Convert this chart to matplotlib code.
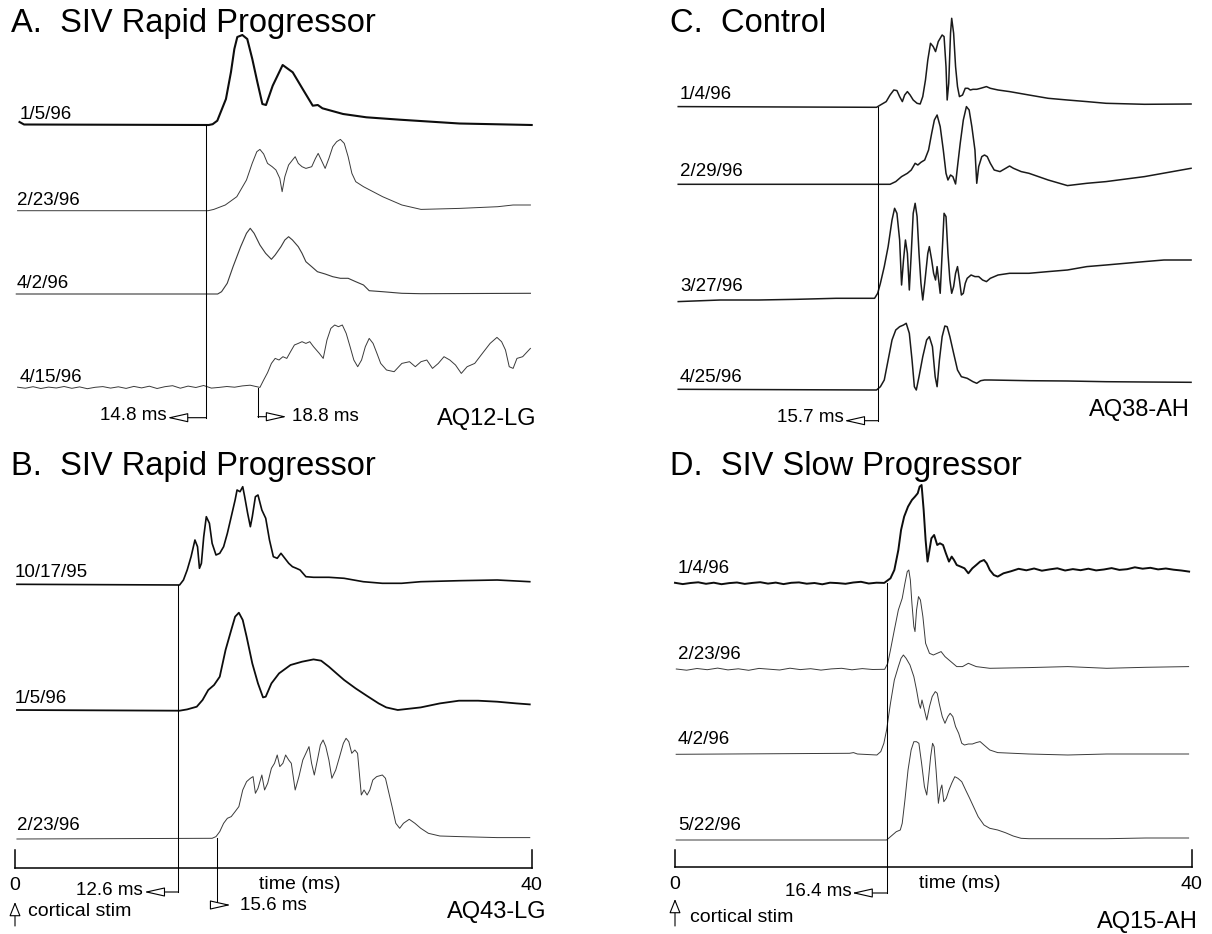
import numpy as np
import matplotlib
matplotlib.use("Agg")
import matplotlib.pyplot as plt

plt.rcParams['font.family'] = ['Liberation Sans', 'DejaVu Sans']

# ---- data: time (ms) and amplitude (arbitrary units) of each MEP trace ----
# A. SIV rapid progressor (AQ12-LG)
a1_t = [0.35, 0.7, 15.0, 15.3, 15.66, 16.33, 16.72, 16.98, 17.21, 17.6, 17.98, 18.37, 18.76, 19.15, 19.43,
        19.95, 20.72, 21.5, 22.27, 23.05, 23.44, 23.8, 25.4, 27.2, 29.8, 34.4, 40.0]
a1_v = [3, 0.5, 0, 0.8, 4.3, 26, 53, 76, 88, 90, 86, 66, 43, 21, 20, 39.3, 60, 52.7, 36, 19.3, 20, 16.7, 11,
        7.7, 5.3, 1.5, 0]
a2_t = [0.2, 14.95, 15.39, 16.28, 17.17, 17.92, 18.36, 18.72, 18.96, 19.25, 19.55, 19.91, 20.20, 20.50, 20.68,
        20.89, 21.18, 21.48, 21.69, 21.93, 22.22, 22.52, 22.97, 23.26, 23.47, 23.71, 24.01, 24.30, 24.60, 24.90,
        25.19, 25.49, 25.79, 26.08, 26.38, 26.98, 28.46, 29.95, 31.43, 34.40, 37.37, 38.56, 39.15, 39.90]
a2_v = [0, 0, 1.3, 5.7, 14, 30.7, 47.3, 59, 61.3, 56.7, 47.3, 44, 40.7, 32.3, 19, 34, 45.7, 50.7, 54, 47.3, 44,
        42.3, 44, 52.3, 57.3, 50.7, 42.3, 52.3, 64, 69, 71.3, 67.3, 54, 37.3, 29, 24, 14, 5.7, 1.3, 2.3, 4, 5.7,
        5.7, 5.7]
a3_t = [0.1, 15.69, 15.99, 16.43, 16.88, 17.47, 17.92, 18.21, 18.51, 18.96, 19.40, 19.85, 20.14, 20.59, 20.89,
        21.18, 21.48, 21.93, 22.22, 22.52, 22.97, 23.41, 24.01, 24.60, 25.19, 25.79, 26.38, 26.98, 27.42, 28.46,
        29.95, 31.43, 39.90]
a3_v = [0, 0, 2.3, 10.7, 27.3, 47.3, 60.7, 65.7, 60.7, 49, 40.7, 34.7, 39, 47.3, 54, 57.3, 54, 47.3, 40.7, 32.3,
        27.3, 22.3, 20, 17.3, 15.7, 15.7, 12.3, 9, 3.3, 2.3, 0.7, 0.3, 0.7]
a4_t = [0.2, 0.8, 1.4, 2.0, 2.6, 3.2, 3.8, 4.4, 5.0, 5.6, 6.2, 6.8, 7.4, 8.0, 8.6, 9.2, 9.8, 10.4, 11.0, 11.6,
        12.2, 12.8, 13.4, 14.0, 14.6, 15.2, 15.8, 16.4, 17.0, 17.6, 18.2, 18.96, 19.25, 19.55, 19.85, 20.14,
        20.44, 20.74, 21.04, 21.33, 21.63, 21.93, 22.22, 22.52, 22.82, 23.11, 23.56, 23.86, 24.15, 24.45, 24.75,
        25.04, 25.34, 25.64, 25.94, 26.23, 26.53, 26.83, 27.12, 27.42, 27.72, 28.02, 28.31, 28.76, 29.35, 29.95,
        30.54, 30.99, 31.43, 31.88, 32.32, 32.77, 33.21, 33.66, 34.10, 34.55, 35.00, 35.59, 36.18, 36.78, 37.31,
        37.67, 37.97, 38.26, 38.56, 38.86, 39.30, 39.90]
a4_v = [0.5, -0.5, 1.0, -0.8, 0.6, -0.3, 1.2, -0.6, 0.8, -1.0, 0.4, 1.1, -0.4, 0.9, -0.7, 1.3, -0.2, 1.5, -0.8,
        1.0, 2.0, -0.5, 1.6, 0.2, 2.2, -0.4, 0.3, 1.2, 0.5, 1.8, 2.5, 0.3, 7.7, 15, 24.3, 29.3, 27.7, 31, 29.3, 36,
        42.7, 44.3, 46, 44.3, 46, 41, 34.3, 29.3, 47.7, 59.3, 62.7, 61, 62.7, 54.3, 41, 27.7, 21, 27.7, 41, 49.3,
        44.3, 34.3, 24.3, 17.7, 16, 24.3, 26, 21, 26, 27.7, 19.3, 24.3, 31, 27.7, 22.7, 14.3, 21, 24.3, 34.3,
        44.3, 50.3, 46, 37.7, 21, 19.3, 29.3, 31, 39.3]

# B. SIV rapid progressor (AQ43-LG)
b1_t = [0.15, 12.74, 13.04, 13.33, 13.63, 13.93, 14.13, 14.28, 14.43, 14.61, 14.81, 15.05, 15.26, 15.56, 15.85,
        16.15, 16.44, 16.74, 17.04, 17.19, 17.42, 17.63, 17.78, 18.01, 18.22, 18.37, 18.61, 18.81, 19.11, 19.41,
        19.70, 20.00, 20.30, 20.59, 20.89, 21.19, 21.48, 21.78, 22.07, 22.52, 23.11, 24.30, 25.48, 26.96, 28.44,
        29.93, 31.41, 34.37, 37.33, 39.85]
b1_v = [0.7, 0, 5, 15, 28.3, 45, 38.3, 16.7, 21.7, 48.3, 68.3, 61.7, 41.7, 30, 31.7, 38.3, 51.7, 68.3, 85, 95,
        93.3, 98.3, 88.3, 71.7, 58.3, 68.3, 88.3, 90, 75, 66.7, 45, 28.3, 26.7, 31.7, 26.7, 21.7, 18.3, 16.7, 15,
        8.3, 7.7, 7.7, 6.7, 3.3, 1.7, 1.7, 3.3, 4.3, 5, 3.3]
b2_t = [0.15, 12.74, 13.33, 14.07, 14.52, 14.96, 15.41, 15.85, 16.30, 16.74, 17.04, 17.33, 17.63, 17.93, 18.37,
        18.81, 19.20, 19.41, 19.85, 20.44, 21.33, 22.22, 23.11, 23.70, 24.30, 24.89, 25.48, 26.37, 27.26, 28.15,
        28.74, 29.63, 30.52, 31.41, 32.89, 34.37, 35.85, 37.33, 38.81, 39.85]
b2_v = [0.7, 0, 1.3, 4, 10.7, 20.7, 25.7, 34, 60.7, 80.7, 94, 98, 90.7, 74, 47.3, 27.3, 13.3, 14, 27.3, 37.3,
        45.7, 49, 51.3, 50, 44, 37.3, 30.7, 22.3, 14.7, 7.3, 3.3, 0.7, 2, 3.3, 7.3, 10, 10, 9, 7.3, 6.3]
b3_t = [0.15, 15.26, 15.56, 15.85, 16.15, 16.44, 16.74, 17.04, 17.33, 17.63, 17.93, 18.22, 18.43, 18.61, 18.81,
        19.11, 19.32, 19.56, 19.85, 20.09, 20.30, 20.50, 20.74, 20.95, 21.19, 21.39, 21.69, 21.98, 22.28, 22.52,
        22.76, 22.96, 23.17, 23.41, 23.64, 23.85, 24.06, 24.30, 24.53, 24.83, 25.13, 25.42, 25.63, 25.84, 26.07,
        26.31, 26.52, 26.81, 27.02, 27.26, 27.47, 27.70, 28.00, 28.44, 28.68, 28.89, 29.19, 29.48, 29.78, 30.07,
        30.52, 30.96, 31.41, 32.00, 32.89, 34.37, 37.33, 39.85]
b3_v = [-0.7, 0, 1.7, 6.7, 15, 20, 21.7, 26.7, 31.7, 48.3, 56.7, 60, 61.7, 45, 50, 63.3, 48.3, 55, 70, 75, 83.3,
        71.7, 75, 83.3, 78.3, 75, 48.3, 61.7, 78.3, 85, 91.7, 75, 63.3, 78.3, 93.3, 98.3, 91.7, 78.3, 60, 68.3,
        81.7, 95, 100, 96.7, 85, 88.3, 85, 43.3, 48.3, 43.3, 48.3, 58.3, 61.7, 63.3, 60, 48.3, 31.7, 15, 10, 15,
        19, 15, 10, 5, 2.3, 1.7, 0.7, 0.7]

# C. Control (AQ38-AH)
c1_t = [0.25, 15.60, 15.90, 16.35, 16.65, 16.94, 17.18, 17.39, 17.60, 17.78, 17.99, 18.20, 18.44, 18.74, 18.98,
        19.18, 19.39, 19.57, 19.78, 19.99, 20.17, 20.38, 20.68, 20.83, 20.98, 21.07, 21.19, 21.33, 21.42, 21.57,
        21.72, 21.87, 22.02, 22.26, 22.47, 22.68, 22.86, 23.07, 23.36, 23.66, 24.11, 24.41, 25.01, 25.90, 27.40,
        28.89, 30.38, 31.88, 33.37, 36.35, 39.95]
c1_v = [0.7, 0, 2.3, 5.7, 12.3, 17.3, 16.7, 10.7, 5.7, 12.3, 15.7, 12.3, 7.3, 4, 3.3, 10.7, 27.3, 47.3, 64, 60.7,
        55.7, 65.7, 72.3, 70.7, 40.7, 7.3, 24, 74, 89, 74, 40.7, 20.7, 10.7, 12.3, 19, 19, 17.3, 18, 18, 19, 20.7,
        19, 17.3, 15.7, 12.3, 9, 7.3, 5.7, 4, 3, 3.3]
c2_t = [0.25, 16.65, 17.09, 17.54, 17.99, 18.29, 18.59, 18.80, 19.04, 19.33, 19.63, 19.87, 20.08, 20.29, 20.53,
        20.77, 20.98, 21.13, 21.33, 21.51, 21.72, 21.87, 22.08, 22.32, 22.56, 22.77, 22.98, 23.22, 23.36, 23.51,
        23.75, 23.96, 24.17, 24.41, 24.71, 25.16, 25.60, 25.90, 26.20, 26.80, 27.40, 28.89, 30.38, 31.88, 33.37,
        36.35, 39.95]
c2_v = [0, 0, 2.7, 7.7, 11, 14.3, 21, 19.3, 22, 24.3, 34.3, 51, 64.3, 69.3, 57.7, 34.3, 11, 4.3, 9.3, 7.7, 0.3,
        17.7, 41, 64.3, 77.7, 74.3, 57.7, 34.3, 1, 17.7, 27.7, 29.3, 27.7, 21, 14.3, 12.7, 16, 18.3, 16, 12.7, 11,
        4.3, -1.3, 1, 2.7, 7.7, 16]
c3_t = [0.25, 3.51, 6.49, 9.48, 12.47, 15.45, 15.69, 15.90, 16.20, 16.50, 16.80, 17.00, 17.18, 17.39, 17.54,
        17.69, 17.84, 17.99, 18.14, 18.29, 18.44, 18.59, 18.74, 18.89, 19.04, 19.18, 19.33, 19.57, 19.69, 19.87,
        20.02, 20.17, 20.29, 20.41, 20.53, 20.68, 20.83, 20.98, 21.13, 21.28, 21.42, 21.57, 21.72, 21.87, 22.02,
        22.17, 22.32, 22.47, 22.62, 22.92, 23.22, 23.51, 23.81, 24.11, 24.41, 25.01, 25.90, 27.40, 28.89, 30.38,
        31.88, 33.37, 34.86, 36.35, 37.85, 39.95]
c3_v = [-2.3, -0.7, -0.7, 0, 1, 1, 6, 16, 32.7, 52.7, 79.3, 91, 86, 59.3, 14.3, 39.3, 59.3, 46, 9.3, 46, 86, 96,
        82.7, 46, 16, -0.7, 16, 46, 52.7, 39.3, 26, 19.3, 32.7, 19.3, 6, 46, 86, 82.7, 46, 19.3, 6, 12.7, 26,
        32.7, 19.3, 4.3, 6, 16, 21, 24.3, 22.7, 22.7, 19.3, 17.7, 21, 24.3, 26, 26, 27.7, 29.3, 32.7, 34.3, 36,
        37.7, 39.3, 39.3]
c4_t = [0.25, 15.60, 15.90, 16.20, 16.50, 16.80, 17.09, 17.39, 17.69, 17.90, 18.14, 18.35, 18.53, 18.68, 18.89,
        19.18, 19.48, 19.69, 19.93, 20.14, 20.29, 20.47, 20.68, 20.89, 21.07, 21.28, 21.57, 21.87, 22.17, 22.62,
        23.07, 23.36, 23.66, 23.96, 24.41, 27.40, 30.38, 33.37, 36.35, 39.95]
c4_v = [0.7, 0, 3.3, 10, 30, 50, 60, 63.3, 65, 66.7, 56.7, 30, 3.3, 0, 13.3, 33.3, 50, 53.3, 43.3, 13.3, 3.3, 30,
        53.3, 64, 63.3, 53.3, 36.7, 20, 13.3, 11.7, 8.3, 6.7, 9.3, 10, 10, 9.3, 9, 8.3, 8, 7.7]

# D. SIV slow progressor (AQ15-AH)
d1_t = [0.0, 0.6, 1.2, 1.8, 2.4, 3.0, 3.6, 4.2, 4.8, 5.4, 6.0, 6.6, 7.2, 7.8, 8.4, 9.0, 9.6, 10.2, 10.8, 11.4,
        12.0, 12.6, 13.2, 13.8, 14.4, 15.0, 15.6, 16.2, 16.68, 16.98, 17.29, 17.50, 17.74, 18.04, 18.34, 18.58,
        18.79, 18.94, 19.09, 19.25, 19.40, 19.55, 19.70, 19.85, 20.06, 20.30, 20.51, 20.75, 20.97, 21.21, 21.42,
        21.60, 21.81, 22.11, 22.41, 22.71, 23.02, 23.32, 23.62, 23.92, 24.13, 24.37, 24.68, 24.98, 25.43, 26.0,
        26.6, 27.2, 27.8, 28.4, 29.0, 29.6, 30.2, 30.8, 31.4, 32.0, 32.6, 33.2, 33.8, 34.4, 35.0, 35.6, 36.2,
        36.8, 37.4, 38.0, 38.6, 39.2, 39.8]
d1_v = [0.5, -0.8, 0.3, 1.0, -0.5, 0.6, -0.9, 0.2, 0.8, -0.6, 0.4, 1.1, -0.3, 0.7, -0.8, 0.5, 0.9, -0.4, 0.3,
        -1.0, 0.6, 0.2, -0.5, 0.8, 1.5, -0.2, 0.6, 0.4, 5, 13.3, 33.3, 53.3, 66.7, 76.7, 83.3, 86.7, 90, 96.7,
        98.3, 73.3, 43.3, 21.7, 33.3, 45, 48.3, 38.3, 40, 38.3, 30, 21.7, 26.7, 23.3, 18.3, 16.7, 15, 10, 15,
        18.3, 21.7, 23.3, 20, 13.3, 8.3, 6.7, 10, 12.0, 14.5, 13.0, 14.8, 12.6, 13.9, 15.0, 12.8, 14.2, 13.1,
        14.6, 12.9, 13.8, 15.2, 13.4, 14.1, 16.0, 14.6, 15.5, 13.9, 14.8, 13.6, 12.8, 11.7]
d2_t = [0.1, 0.9, 1.7, 2.5, 3.3, 4.1, 4.9, 5.7, 6.5, 7.3, 8.1, 8.9, 9.7, 10.5, 11.3, 12.1, 12.9, 13.7, 14.5,
        15.3, 16.23, 16.47, 16.68, 16.98, 17.29, 17.59, 17.80, 17.98, 18.10, 18.22, 18.34, 18.49, 18.58, 18.70,
        18.85, 19.00, 19.19, 19.40, 19.70, 20.00, 20.30, 20.60, 20.90, 21.21, 21.51, 21.81, 22.26, 22.71, 23.02,
        23.32, 24.37, 27.39, 30.41, 33.42, 36.44, 39.76]
d2_v = [0.3, -0.9, 0.8, -0.4, 1.2, -0.6, 0.5, -1.0, 0.9, 0.1, -0.7, 1.1, -0.3, 0.6, -0.8, 0.4, 1.0, -0.5, 0.7,
        -0.2, 0, 6, 19.3, 39.3, 59.3, 71, 86, 97.7, 99.3, 89.3, 66, 42.7, 37.7, 59.3, 72.7, 69.3, 52.7, 26, 16,
        14.3, 16, 17.7, 12.7, 9.3, 6, 2.7, 2.7, 6, 4.3, 2.7, 1, 1.7, 2.7, 1, 2, 2.7]
d3_t = [0.09, 13.51, 13.82, 14.12, 15.63, 15.93, 16.17, 16.38, 16.68, 16.98, 17.29, 17.50, 17.68, 17.89, 18.19,
        18.49, 18.70, 18.88, 19.00, 19.12, 19.31, 19.49, 19.70, 19.91, 20.15, 20.30, 20.45, 20.69, 20.90, 21.12,
        21.30, 21.51, 21.72, 21.96, 22.20, 22.41, 22.71, 23.02, 23.32, 23.62, 23.92, 24.37, 24.98, 27.39, 30.41,
        33.42, 36.44, 39.76]
d3_v = [0, 1, 1.7, 0.3, -0.7, 2.7, 11, 24.3, 51, 74.3, 87.7, 96, 99.3, 96, 89.3, 77.7, 64.3, 51, 46, 54.3, 44.3,
        34.3, 47.7, 57.7, 62.7, 61, 51, 37.7, 31, 37.7, 41, 37.7, 27.7, 21, 11, 9.3, 10.3, 10.3, 11.7, 12.7, 9.3,
        4.3, 1.7, 0.3, -0.7, 0.3, 0.3, 0.3]
d4_t = [0.09, 16.38, 16.68, 17.13, 17.44, 17.59, 17.80, 18.04, 18.28, 18.49, 18.70, 18.88, 19.09, 19.31, 19.49,
        19.64, 19.79, 19.94, 20.06, 20.21, 20.39, 20.54, 20.66, 20.81, 21.00, 21.21, 21.42, 21.66, 21.90, 22.20,
        22.50, 22.81, 23.11, 23.47, 23.92, 24.37, 24.98, 25.58, 26.18, 26.79, 27.39, 30.41, 33.42, 36.44, 39.76]
d4_v = [0, 0, 3.3, 8.3, 10, 16.7, 40, 70, 90, 98.3, 98.3, 96.7, 76.7, 53.3, 45, 63.3, 83.3, 96.7, 93.3, 70, 36.7,
        50, 55, 38.3, 41.7, 50, 56.7, 63.3, 61.7, 58.3, 50, 41.7, 33.3, 23.3, 15, 11.7, 10, 7.3, 4, 1.7, 1.3, 1.3,
        1.3, 2, 2]

a_dates = ['1/5/96', '2/23/96', '4/2/96', '4/15/96']
b_dates = ['10/17/95', '1/5/96', '2/23/96']
c_dates = ['1/4/96', '2/29/96', '3/27/96', '4/25/96']
d_dates = ['1/4/96', '2/23/96', '4/2/96', '5/22/96']
a_lat = [14.8, 18.8]
b_lat = [12.6, 15.6]
c_lat = [15.7]
d_lat = [16.4]

# ---- layout (pixels) ----
W, H = 1212, 934
fig = plt.figure(figsize=(W / 100, H / 100), dpi=100)
fig.patch.set_facecolor('white')


def panel(x0, x40, top, bottom):
    ax = fig.add_axes([x0 / W, 1 - bottom / H, (x40 - x0) / W, (bottom - top) / H])
    ax.set_xlim(0, 40)
    ax.set_ylim(bottom, top)
    ax.axis('off')
    return ax


def ftext(x, y, s, **kw):
    kw.setdefault('va', 'baseline')
    fig.text(x / W, 1 - y / H, s, **kw)


def trace(ax, t, v, base, lw, col):
    ax.plot(t, base - np.array(v), lw=lw, color=col, clip_on=False, solid_joinstyle='round')


def hollow_arrow(ax, tip, tail, hl=0.8, hw=0.18, ms=16):
    ax.annotate('', xy=tip, xytext=tail, annotation_clip=False,
                arrowprops=dict(arrowstyle='-|>,head_length=%s,head_width=%s' % (hl, hw), mutation_scale=ms,
                                fc='white', ec='black', lw=0.8, shrinkA=0, shrinkB=0))


def latency(ax, t, y0, y1, dx, label, ty=None, gap=0.1):
    ax.plot([t, t], [y0, y1], lw=0.75, color='black', clip_on=False)
    hollow_arrow(ax, (t + dx, y1), (t, y1))
    ha = 'left' if dx > 0 else 'right'
    ax.text(t + dx + (gap if dx > 0 else -gap), y1 if ty is None else ty, label,
            ha=ha, va='center', fontsize=13.5)


def time_axis(ax, y, ytick, yl, ya):
    ax.plot([0, 40], [y, y], lw=1.1, color='black', clip_on=False)
    for x in [0, 40]:
        ax.plot([x, x], [y, ytick], lw=1.1, color='black', clip_on=False)
    ax.text(0, yl, '0', ha='center', va='center', fontsize=14)
    ax.text(40, yl, '40', ha='center', va='center', fontsize=14)
    ax.text(22.05, yl - 1, 'time (ms)', ha='center', va='center', fontsize=14)
    hollow_arrow(ax, (0, ya[0]), (0, ya[1]), hl=0.55, hw=0.22)


thick, thin, med = '#0d0d0d', '#3a3a3a', '#1a1a1a'
title_fs = 23.5

# A
axA = panel(15, 531.7, 0, 470)
ftext(11, 32, 'A.  SIV Rapid Progressor', fontsize=title_fs)
baseA = [125, 210.7, 294, 387.7]
for (t, v), b, lw, c in zip([(a1_t, a1_v), (a2_t, a2_v), (a3_t, a3_v), (a4_t, a4_v)], baseA,
                            [1.5, 0.7, 0.8, 0.7], [thick, thin, thin, thin]):
    trace(axA, t, v, b, lw, c)
for d, b, x in zip(a_dates, baseA, [20, 17, 17, 20]):
    ftext(x, b - 6, d, fontsize=13.5)
latency(axA, a_lat[0], baseA[0], 417.7, -3.0, '14.8 ms', ty=415)
latency(axA, a_lat[1], baseA[3], 416.7, 2.23, '18.8 ms', gap=0.44)
ftext(536, 419, 'AQ12-LG', fontsize=17, ha='right', va='center')

# B
axB = panel(15, 531.7, 470, 934)
ftext(11, 475, 'B.  SIV Rapid Progressor', fontsize=title_fs)
baseB = [585, 710.7, 838.3]
for (t, v), b, lw, c in zip([(b1_t, b1_v), (b2_t, b2_v), (b3_t, b3_v)], baseB,
                            [1.2, 1.3, 0.7], [thick, thick, thin]):
    trace(axB, t, v, b, lw, c)
for d, b, x in zip(b_dates, baseB, [15, 15, 17]):
    ftext(x, b - 8, d, fontsize=13.5)
time_axis(axB, 868.3, 850, 885, (902, 926))
latency(axB, b_lat[0], baseB[0], 892, -2.6, '12.6 ms', ty=890, gap=0.12)
latency(axB, b_lat[1], baseB[2], 905, 1.1, '15.6 ms', gap=0.75)
ftext(28, 911.7, 'cortical stim', fontsize=14, va='center')
ftext(546, 912, 'AQ43-LG', fontsize=17, ha='right', va='center')

# C
axC = panel(675, 1191.7, 0, 470)
ftext(670, 32, 'C.  Control', fontsize=title_fs)
baseC = [107.3, 184.3, 299.3, 390]
for (t, v), b in zip([(c1_t, c1_v), (c2_t, c2_v), (c3_t, c3_v), (c4_t, c4_v)], baseC):
    trace(axC, t, v, b, 1.1, med)
for d, b in zip(c_dates, baseC):
    ftext(680, b - 8, d, fontsize=13.5)
latency(axC, c_lat[0], baseC[0], 420.7, -2.6, '15.7 ms', ty=418, gap=0.02)
ftext(1190, 410, 'AQ38-AH', fontsize=17, ha='right', va='center')

# D
axD = panel(675, 1191.7, 470, 934)
ftext(670, 475, 'D.  SIV Slow Progressor', fontsize=title_fs)
baseD = [583.3, 669.3, 754.3, 840]
for (t, v), b, lw, c in zip([(d1_t, d1_v), (d2_t, d2_v), (d3_t, d3_v), (d4_t, d4_v)], baseD,
                            [1.4, 0.7, 0.7, 0.7], [thick, thin, thin, thin]):
    trace(axD, t, v, b, lw, c)
for d, b in zip(d_dates, baseD):
    ftext(678, b - 10, d, fontsize=13.5)
time_axis(axD, 866.7, 850, 884, (899, 926))
latency(axD, d_lat[0], baseD[0], 893, -2.7, '16.4 ms', ty=891.7, gap=0.02)
ftext(690, 917, 'cortical stim', fontsize=14, va='center')
ftext(1198, 922, 'AQ15-AH', fontsize=17, ha='right', va='center')

fig.savefig('out.png', dpi=100, facecolor='white')
